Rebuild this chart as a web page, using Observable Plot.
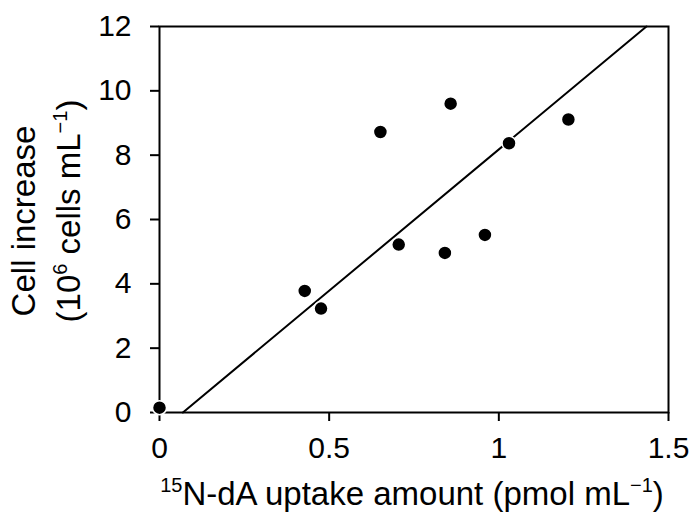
<!DOCTYPE html>
<html><head><meta charset="utf-8">
<script src="https://cdn.jsdelivr.net/npm/d3@7"></script>
<script src="https://cdn.jsdelivr.net/npm/@observablehq/plot@0.6"></script>
<style>body{margin:0;background:#fff} svg{font-family:"Liberation Sans",Arial,sans-serif}</style>
</head><body><div id="chart"></div>
<script>
const uptake = [0, 0.428, 0.476, 0.651, 0.705, 0.841, 0.858, 0.959, 1.03, 1.205];
const cells  = [0.15, 3.78, 3.23, 8.72, 5.22, 4.96, 9.6, 5.52, 8.37, 9.11];
const fitUptake = [0.069, 1.435];
const fitCells  = [0, 12];
const xTicks = [0, 0.5, 1, 1.5];
const yTicks = [0, 2, 4, 6, 8, 10, 12];

const points = uptake.map((u, i) => ({x: u, y: cells[i]}));
const fit = fitUptake.map((u, i) => ({x: u, y: fitCells[i]}));

const chart = Plot.plot({
  width: 695, height: 516,
  marginLeft: 159, marginRight: 27, marginTop: 26, marginBottom: 104,
  style: {fontFamily: "Liberation Sans, Arial, sans-serif", fontSize: "30px", color: "black", background: "white", overflow: "visible"},
  x: {domain: [0, 1.5]},
  y: {domain: [0, 12]},
  marks: [
    Plot.axisX({ticks: xTicks, tickFormat: d => String(d), tickSize: 9, tickPadding: 15, strokeWidth: 2, label: null, fontSize: 30}),
    Plot.axisY({ticks: yTicks, tickFormat: d => String(d), tickSize: 9, tickPadding: 19, strokeWidth: 2, label: null, fontSize: 30}),
    Plot.frame({stroke: "black", strokeWidth: 2}),
    Plot.line(fit, {x: "x", y: "y", stroke: "black", strokeWidth: 2}),
    Plot.dot(points, {x: "x", y: "y", r: 7, fill: "black", stroke: "white", strokeWidth: 1.5})
  ]
});
document.getElementById("chart").appendChild(chart);

const svg = d3.select(chart);
const big = 33, sup = 20, sh = 13;
function addSup(g, parts) {
  let raised = false;
  parts.forEach(([t, isSup]) => {
    let dy = 0;
    if (isSup && !raised) { dy = -sh; raised = true; }
    else if (!isSup && raised) { dy = sh; raised = false; }
    g.append("tspan").attr("font-size", isSup ? sup : big).attr("dy", dy).text(t);
  });
}
const xl = svg.append("text").attr("x", 412).attr("y", 505).attr("text-anchor", "middle").attr("fill", "black").attr("font-size", big);
addSup(xl, [["15", true], ["N-dA uptake amount (pmol mL", false], ["−1", true], [")", false]]);

svg.append("text").attr("transform", "translate(35,221) rotate(-90)").attr("text-anchor", "middle").attr("fill", "black").attr("font-size", big).text("Cell increase");
const yl2 = svg.append("text").attr("transform", "translate(80,211) rotate(-90)").attr("text-anchor", "middle").attr("fill", "black").attr("font-size", big);
addSup(yl2, [["(10", false], ["6", true], [" cells mL", false], ["−1", true], [")", false]]);
</script>
</body></html>
